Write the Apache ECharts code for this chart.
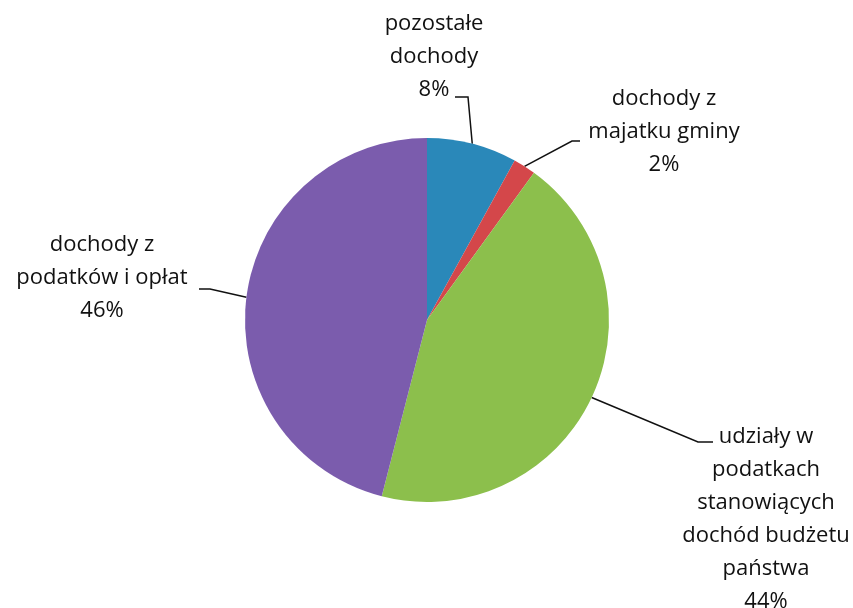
<!DOCTYPE html>
<html>
<head>
<meta charset="utf-8">
<script src="https://cdn.jsdelivr.net/npm/echarts@6/dist/echarts.min.js"></script>
<style>
  html, body { margin: 0; padding: 0; background: #fff; }
  #box { width: 853px; height: 608px; }
</style>
</head>
<body>
<div id="box"></div>
<script>
  // dane wykresu
  const names = [
    'pozostałe\ndochody',
    'dochody z\nmajatku gminy',
    'udziały w\npodatkach\nstanowiących\ndochód budżetu\npaństwa',
    'dochody z\npodatków i opłat'
  ]
  const values = [8, 2, 44, 46]
  const colors = ['#2a88b9', '#d4474a', '#8cbf4c', '#7b5cad']

  // gdzie stoja etykiety (srodek tekstu) i gdzie konczy sie linia
  const labelPos = [[434, 57], [664, 132], [766, 519], [102, 278]]
  const lineEnd = [[21, 40], [-84, 9], [-53, -77], [97, 11]]
  const elbow = [13, -8, -15, 11]

  let myChart = echarts.init(document.getElementById('box'))
  let option = {
    animation: false,
    series: [
      {
        type: 'pie',
        center: [427, 320],
        radius: 182,
        startAngle: 90,
        clockwise: true,
        silent: true,
        data: values.map((v, i) => ({
          value: v,
          name: names[i],
          itemStyle: { color: colors[i] }
        })),
        label: {
          show: true,
          formatter: '{b}\n{d}%',
          fontFamily: 'Open Sans',
          fontSize: 22,
          lineHeight: 33,
          color: '#111'
        },
        labelLine: {
          show: true,
          length: 20,
          length2: 10,
          lineStyle: { color: '#111', width: 1.5 }
        },
        labelLayout: (params) => {
          const i = params.dataIndex
          const p = labelPos[i]
          const anchor = params.labelLinePoints[0]
          const end = [p[0] + lineEnd[i][0], p[1] + lineEnd[i][1]]
          const mid = [end[0] + elbow[i], end[1]]
          return {
            x: p[0],
            y: p[1],
            align: 'center',
            verticalAlign: 'middle',
            labelLinePoints: [anchor, mid, end]
          }
        }
      }
    ]
  }
  myChart.setOption(option)
</script>
</body>
</html>
